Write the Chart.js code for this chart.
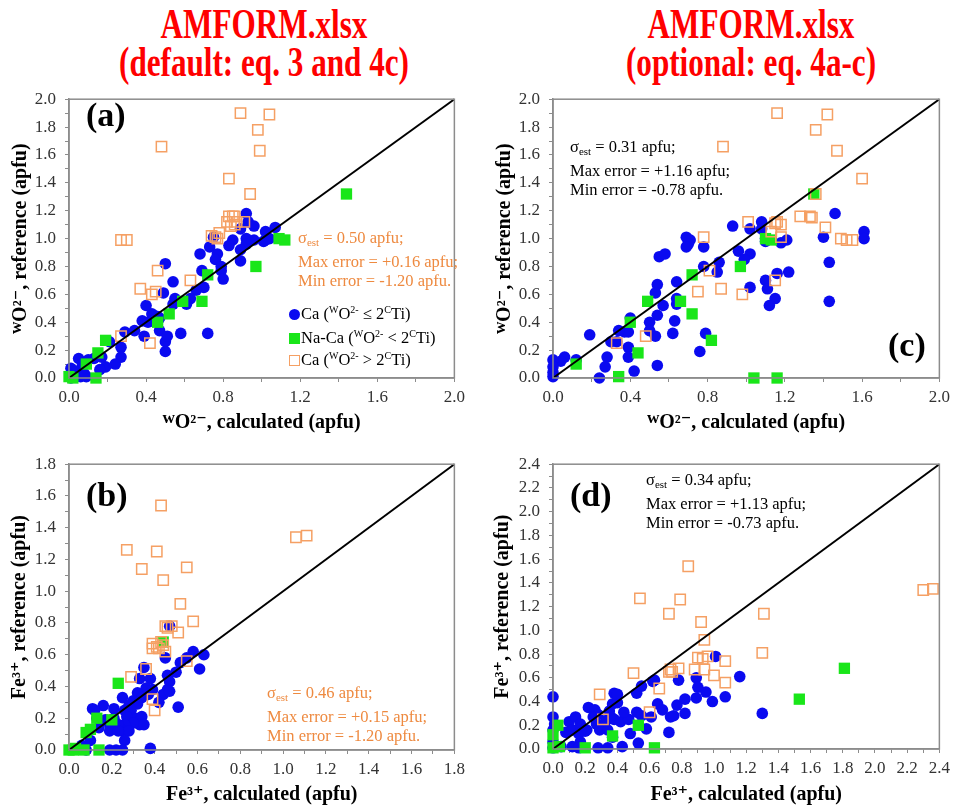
<!DOCTYPE html>
<html>
<head>
<meta charset="utf-8">
<script src="https://cdn.jsdelivr.net/npm/chart.js@4.4.0/dist/chart.umd.min.js"></script>
<style>
  body { margin:0; width:955px; height:808px; background:#fff; position:relative; overflow:hidden;
         font-family:'Liberation Serif','Times New Roman','DejaVu Serif',serif; }
  .cv { position:absolute; }
  .head { position:absolute; width:420px; text-align:center; color:#f00; font-weight:bold;
          font-size:38px; line-height:38px; white-space:nowrap; transform:scale(0.82, 1.12); }
  .tag { position:absolute; font-weight:bold; font-size:34px; line-height:34px; }
  .note { position:absolute; font-size:16.5px; line-height:19px; white-space:nowrap; }
  .note sub { font-size:11px; vertical-align:-3px; }
  .orange { color:#ee8a40; }
  .lg { position:absolute; left:289px; font-size:16.5px; line-height:22px; height:22px; white-space:nowrap; }
  .lg sup { font-size:10px; vertical-align:6px; }
  .mk { display:inline-block; width:11px; height:11px; margin-right:1px; vertical-align:-1px; box-sizing:border-box; }
</style>
</head>
<body>

<div class="head" style="left:54px;top:4px">AMFORM.xlsx</div>
<div class="head" style="left:54px;top:42px">(default: eq. 3 and 4c)</div>
<div class="head" style="left:541px;top:4px">AMFORM.xlsx</div>
<div class="head" style="left:541px;top:42px">(optional: eq. 4a-c)</div>

<canvas id="pa" class="cv" width="470" height="360" style="left:0;top:80px"></canvas>
<canvas id="pc" class="cv" width="475" height="360" style="left:480px;top:80px"></canvas>
<canvas id="pb" class="cv" width="470" height="363" style="left:0;top:445px"></canvas>
<canvas id="pd" class="cv" width="475" height="363" style="left:480px;top:445px"></canvas>

<div class="tag" style="left:86px;top:98px">(a)</div>
<div class="tag" style="left:86px;top:478px">(b)</div>
<div class="tag" style="left:888px;top:328px">(c)</div>
<div class="tag" style="left:570px;top:478px">(d)</div>

<div class="note orange" style="left:298px;top:228px">σ<sub>est</sub> = 0.50 apfu;<br>Max error = +0.16 apfu;<br>Min error = -1.20 apfu.</div>
<div class="note" style="left:570px;top:137px">σ<sub>est</sub> = 0.31 apfu;<br>Max error = +1.16 apfu;<br>Min error = -0.78 apfu.</div>
<div class="note orange" style="left:267px;top:683px">σ<sub>est</sub> = 0.46 apfu;<br>Max error = +0.15 apfu;<br>Min error = -1.20 apfu.</div>
<div class="note" style="left:646px;top:470px">σ<sub>est</sub> = 0.34 apfu;<br>Max error = +1.13 apfu;<br>Min error = -0.73 apfu.</div>

<div class="lg" style="top:299px"><span class="mk" style="background:#0a0af0;border-radius:50%"></span>Ca (<sup>W</sup>O<sup>2-</sup> ≤ 2<sup>C</sup>Ti)</div>
<div class="lg" style="top:323px"><span class="mk" style="background:#19e619"></span>Na-Ca (<sup>W</sup>O<sup>2-</sup> &lt; 2<sup>C</sup>Ti)</div>
<div class="lg" style="top:345px"><span class="mk" style="border:1.5px solid #f5a064"></span>Ca (<sup>W</sup>O<sup>2-</sup> &gt; 2<sup>C</sup>Ti)</div>

<script>
/* ---------- data: [calculated, reference] in apfu ---------- */

// (a) WO2-, default equations
const caLowA = [[0.92,1.18],[0.93,1.12],[0.96,1.09],[0.89,1.07],[1.07,1.08],[1.02,1.05],[1.04,1.00],[1.01,0.98],
  [0.92,1.00],[0.96,0.99],[0.92,0.96],[0.85,0.99],[0.83,0.95],[0.73,0.94],[0.75,1.01],[0.77,0.89],[0.76,0.85],
  [0.68,0.89],[0.89,0.92],[0.89,0.84],[0.79,0.80],[0.79,0.77],[0.80,0.71],[0.69,0.77],[0.70,0.65],[0.66,0.63],
  [0.63,0.57],[0.61,0.53],[0.54,0.53],[0.55,0.57],[0.54,0.69],[0.50,0.82],[0.49,0.61],[0.43,0.46],[0.46,0.44],
  [0.40,0.52],[0.38,0.41],[0.41,0.40],[0.47,0.34],[0.39,0.30],[0.50,0.26],[0.50,0.19],[0.51,0.30],[0.58,0.32],
  [0.72,0.32],[0.29,0.33],[0.34,0.34],[0.27,0.22],[0.27,0.15],[0.21,0.26],[0.24,0.10],[0.19,0.08],[0.16,0.06],
  [0.17,0.15],[0.13,0.14],[0.05,0.14],[0.10,0.13],[0.01,0.07],[0.02,0.05],[0.04,0.05],[0.08,0.03],[0.09,0.01],
  [0.06,0.01],[0.01,0.02],[0.01,0.00],[0.07,0.02],[1.02,0.99],[0.44,0.45],[0.47,0.43],[0.07,0.10]];
const naA = [[1.44,1.32],[1.09,1.00],[1.12,0.99],[0.97,0.80],[0.72,0.74],[0.69,0.55],[0.59,0.55],[0.52,0.46],
  [0.46,0.40],[0.19,0.27],[0.15,0.18],[0.09,0.10],[0.00,0.01],[0.02,0.00],[0.14,0.00]];
const caHighA = [[0.89,1.90],[1.04,1.89],[0.98,1.78],[0.99,1.63],[0.48,1.66],[0.83,1.43],[0.94,1.32],[0.27,0.99],
  [0.30,0.99],[0.83,1.16],[0.85,1.16],[0.86,1.16],[0.82,1.12],[0.87,1.12],[0.91,1.12],[0.84,1.09],[0.86,1.10],
  [0.74,1.02],[0.78,1.04],[0.77,1.00],[0.76,1.01],[0.46,0.77],[0.37,0.64],[0.43,0.60],[0.45,0.62],[0.63,0.70],
  [0.27,0.30],[0.42,0.25]];

// (c) WO2-, optional equations
const caLowC = [[1.46,1.18],[1.08,1.12],[0.93,1.09],[1.02,1.07],[1.08,1.07],[0.69,1.01],[0.71,0.99],[0.70,0.96],
  [0.69,0.94],[0.78,0.94],[1.10,0.98],[1.18,0.97],[1.21,0.99],[1.40,1.01],[1.61,1.05],[1.61,1.00],[0.96,0.91],
  [1.02,0.89],[0.99,0.85],[0.86,0.83],[0.85,0.76],[0.78,0.80],[0.55,0.87],[0.58,0.89],[1.43,0.83],[1.22,0.76],
  [1.16,0.75],[1.10,0.70],[1.02,0.65],[1.11,0.64],[1.15,0.57],[1.12,0.52],[1.43,0.55],[0.64,0.69],[0.54,0.67],
  [0.53,0.61],[0.64,0.57],[0.64,0.53],[0.57,0.52],[0.54,0.45],[0.63,0.41],[0.62,0.32],[0.50,0.40],[0.50,0.34],
  [0.53,0.30],[0.40,0.43],[0.39,0.33],[0.37,0.33],[0.34,0.34],[0.39,0.22],[0.39,0.15],[0.42,0.05],[0.54,0.09],
  [0.76,0.19],[0.79,0.32],[0.19,0.31],[0.30,0.26],[0.28,0.15],[0.27,0.08],[0.24,0.00],[0.12,0.13],[0.06,0.15],
  [0.04,0.12],[0.00,0.13],[0.00,0.08],[0.00,0.04],[0.00,0.01],[0.33,0.26],[1.10,1.00]];
const naC = [[1.35,1.32],[1.10,1.00],[1.13,0.99],[0.97,0.80],[0.72,0.74],[0.49,0.55],[0.66,0.55],[0.72,0.46],
  [0.40,0.40],[0.82,0.27],[0.44,0.18],[0.12,0.10],[0.34,0.01],[1.04,0.00],[1.16,0.00]];
const caHighC = [[1.16,1.90],[1.42,1.89],[1.36,1.78],[1.47,1.63],[0.88,1.66],[1.60,1.43],[1.36,1.32],[1.28,1.16],
  [1.33,1.16],[1.34,1.15],[1.01,1.12],[1.15,1.11],[1.18,1.10],[1.13,1.05],[1.41,1.08],[1.18,1.01],[0.78,1.01],
  [1.49,1.00],[1.52,0.99],[1.55,0.99],[0.81,0.77],[1.15,0.70],[0.87,0.64],[0.75,0.62],[0.98,0.60],[0.48,0.30],
  [0.33,0.25],[1.16,1.12]];

// (b) Fe3+, default equations
const caLowB = [[0.47,0.78],[0.45,0.58],[0.58,0.62],[0.63,0.60],[0.61,0.51],[0.55,0.58],[0.52,0.55],[0.50,0.49],
  [0.46,0.47],[0.47,0.43],[0.46,0.38],[0.44,0.35],[0.47,0.37],[0.42,0.30],[0.51,0.27],[0.35,0.52],[0.33,0.45],
  [0.38,0.45],[0.36,0.39],[0.39,0.38],[0.37,0.35],[0.32,0.36],[0.34,0.33],[0.30,0.31],[0.32,0.29],[0.25,0.33],
  [0.28,0.28],[0.26,0.25],[0.29,0.25],[0.31,0.20],[0.27,0.21],[0.34,0.21],[0.33,0.16],[0.35,0.16],[0.30,0.17],
  [0.26,0.16],[0.25,0.12],[0.28,0.12],[0.21,0.26],[0.16,0.28],[0.11,0.26],[0.21,0.20],[0.23,0.16],[0.19,0.16],
  [0.14,0.14],[0.19,0.12],[0.23,0.12],[0.17,0.19],[0.26,0.06],[0.25,0.00],[0.22,0.00],[0.19,0.00],[0.38,0.01],
  [0.10,0.06],[0.08,0.00],[0.06,0.03],[0.12,0.25],[0.13,0.20]];
const naB = [[0.44,0.68],[0.23,0.42],[0.13,0.20],[0.20,0.19],[0.08,0.11],[0.10,0.13],[0.00,0.00],[0.03,0.01],
  [0.07,0.00],[0.14,0.00],[0.02,0.00]];
const caHighB = [[0.43,1.54],[0.27,1.26],[0.41,1.25],[0.34,1.14],[0.55,1.15],[0.44,1.07],[0.52,0.92],[0.58,0.81],
  [1.06,1.34],[1.11,1.35],[0.45,0.78],[0.48,0.78],[0.51,0.74],[0.39,0.67],[0.43,0.68],[0.39,0.64],[0.41,0.65],
  [0.44,0.66],[0.45,0.62],[0.55,0.56],[0.36,0.51],[0.29,0.46],[0.39,0.32],[0.40,0.25],[0.42,0.64],[0.46,0.77]];

// (d) Fe3+, optional equations
const caLowD = [[0.00,0.44],[0.00,0.27],[0.01,0.21],[0.10,0.23],[0.14,0.27],[0.17,0.21],[0.08,0.14],[0.12,0.16],
  [0.16,0.13],[0.21,0.16],[0.17,0.06],[0.12,0.02],[0.05,0.02],[0.22,0.35],[0.26,0.33],[0.28,0.29],[0.25,0.27],
  [0.27,0.21],[0.31,0.20],[0.33,0.24],[0.36,0.27],[0.35,0.32],[0.37,0.38],[0.40,0.39],[0.38,0.47],[0.40,0.46],
  [0.38,0.25],[0.42,0.23],[0.47,0.25],[0.44,0.31],[0.52,0.47],[0.55,0.53],[0.52,0.31],[0.55,0.28],[0.61,0.27],
  [0.58,0.17],[0.53,0.05],[0.43,0.02],[0.34,0.01],[0.28,0.01],[0.16,0.01],[0.63,0.58],[0.62,0.57],[0.65,0.38],
  [0.68,0.33],[0.73,0.27],[0.75,0.28],[0.72,0.14],[0.77,0.37],[0.78,0.58],[0.82,0.42],[0.82,0.30],[0.89,0.60],
  [0.90,0.52],[0.89,0.43],[0.95,0.48],[0.99,0.40],[1.01,0.78],[1.07,0.44],[1.16,0.61],[1.30,0.30],[0.00,0.16],
  [0.00,0.06],[0.00,0.01],[0.48,0.13],[0.37,0.10],[0.29,0.16],[0.34,0.16],[0.20,0.15]];
const naD = [[0.03,0.20],[0.00,0.12],[0.00,0.01],[0.04,0.02],[0.20,0.01],[0.37,0.11],[0.53,0.20],[0.63,0.01],
  [1.81,0.68],[1.53,0.42]];
const caHighD = [[0.84,1.54],[0.54,1.27],[0.79,1.26],[0.72,1.14],[1.31,1.14],[0.92,1.07],[0.94,0.92],[2.30,1.34],
  [2.36,1.35],[1.30,0.81],[0.90,0.77],[0.93,0.76],[0.96,0.78],[1.07,0.74],[0.78,0.68],[0.72,0.65],[0.74,0.65],
  [0.88,0.67],[0.94,0.67],[1.00,0.62],[1.07,0.56],[0.50,0.64],[0.66,0.51],[0.29,0.46],[0.60,0.31],[0.31,0.25],
  [0.73,0.67]];

// axis ranges / tick steps
const wo2Range = [0, 2.0];
const fe3RangeB = [0, 1.8];
const fe3RangeD = [0, 2.4];

const FONT = "'Liberation Serif','Times New Roman','DejaVu Serif',serif";
const AXIS_GRAY = '#8c8c8c';

const pts = arr => arr.map(([x, y]) => ({ x, y }));
const isMajor = (v, step) => Math.abs(v / step - Math.round(v / step)) < 1e-6;

// grey box round the plot area
const framePlugin = {
  id: 'frame',
  afterDatasetsDraw(chart) {
    const { ctx, chartArea: a } = chart;
    ctx.save();
    ctx.strokeStyle = AXIS_GRAY;
    ctx.lineWidth = 1.5;
    ctx.strokeRect(a.left, a.top, a.right - a.left, a.bottom - a.top);
    ctx.restore();
  }
};

function axis(range, minor, major, title, size, titlePad, isX) {
  return {
    type: 'linear',
    min: range[0], max: range[1],
    afterFit: s => { if (isX) s.height = size; else s.width = size; },
    border: { display: true, color: AXIS_GRAY, width: 1.5 },
    grid: { drawOnChartArea: false, drawTicks: true, tickLength: 4, color: AXIS_GRAY },
    ticks: {
      stepSize: minor, autoSkip: false, maxTicksLimit: 100, maxRotation: 0,
      color: '#333', padding: isX ? 5 : 9,
      font: { family: FONT, size: 17 },
      callback: v => isMajor(v, major) ? v.toFixed(1) : ''
    },
    title: {
      display: true, text: title, color: '#000',
      font: { family: FONT, size: 20, weight: 'bold' },
      padding: titlePad
    }
  };
}

function panel(id, p) {
  new Chart(document.getElementById(id), {
    type: 'scatter',
    data: {
      datasets: [
        { type: 'line', data: pts([[p.xr[0], p.yr[0]], [p.xr[1], p.yr[1]]]), borderColor: '#000',
          borderWidth: 2, pointRadius: 0, order: 0, clip: false },
        { data: pts(p.high), pointStyle: 'rect', pointRadius: 7.3, backgroundColor: 'rgba(0,0,0,0)',
          borderColor: '#f5a064', borderWidth: 1.5, order: 1, clip: false },
        { data: pts(p.na), pointStyle: 'rect', pointRadius: 8, backgroundColor: '#19e619',
          borderWidth: 0, order: 2, clip: false },
        { data: pts(p.low), pointStyle: 'circle', pointRadius: 5.8, backgroundColor: '#0a0af0',
          borderWidth: 0, order: 3, clip: false }
      ]
    },
    options: {
      responsive: false,
      animation: false,
      events: [],
      layout: { padding: { top: p.padTop, right: p.padRight, left: 0, bottom: 0 } },
      plugins: { legend: { display: false }, tooltip: { enabled: false } },
      scales: {
        x: axis(p.xr, p.xMinor, p.xMajor, p.xTitle, p.xh, { top: 0, bottom: p.xtPad }, true),
        y: axis(p.yr, p.yMinor, p.yMajor, p.yTitle, p.yw, { top: p.ytPad, bottom: 0 }, false)
      }
    },
    plugins: [framePlugin]
  });
}

const woCalc = 'ᵂO²⁻, calculated (apfu)';
const woRef = 'ᵂO²⁻, reference (apfu)';
const feCalc = 'Fe³⁺, calculated (apfu)';
const feRef = 'Fe³⁺, reference (apfu)';

panel('pa', { low: caLowA, na: naA, high: caHighA, xr: wo2Range, yr: wo2Range,
  xMinor: 0.2, xMajor: 0.4, yMinor: 0.1, yMajor: 0.2, xTitle: woCalc, yTitle: woRef,
  padTop: 4, padRight: 11, xh: 62, yw: 69, xtPad: 5, ytPad: 9 });
panel('pc', { low: caLowC, na: naC, high: caHighC, xr: wo2Range, yr: wo2Range,
  xMinor: 0.2, xMajor: 0.4, yMinor: 0.1, yMajor: 0.2, xTitle: woCalc, yTitle: woRef,
  padTop: 4, padRight: 13, xh: 62, yw: 73, xtPad: 5, ytPad: 13 });
panel('pb', { low: caLowB, na: naB, high: caHighB, xr: fe3RangeB, yr: fe3RangeB,
  xMinor: 0.1, xMajor: 0.2, yMinor: 0.1, yMajor: 0.2, xTitle: feCalc, yTitle: feRef,
  padTop: 11, padRight: 12, xh: 58, yw: 69, xtPad: 1, ytPad: 8 });
panel('pd', { low: caLowD, na: naD, high: caHighD, xr: fe3RangeD, yr: fe3RangeD,
  xMinor: 0.1, xMajor: 0.2, yMinor: 0.1, yMajor: 0.2, xTitle: feCalc, yTitle: feRef,
  padTop: 10, padRight: 13, xh: 59, yw: 73, xtPad: 1, ytPad: 11 });
</script>
</body>
</html>
